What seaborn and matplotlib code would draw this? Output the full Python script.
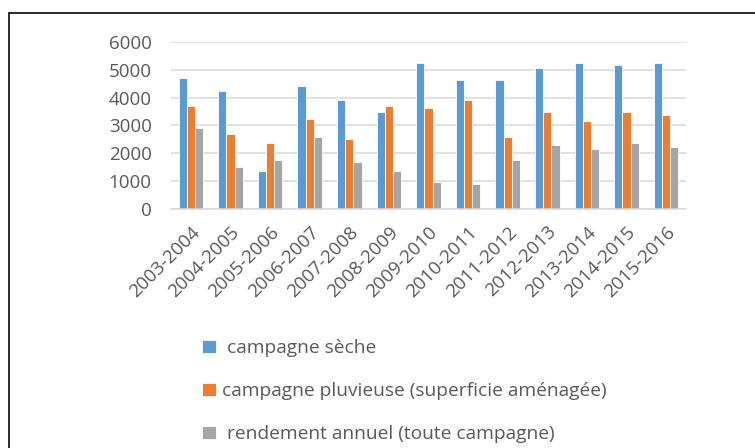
import matplotlib
matplotlib.use("Agg")
import matplotlib.pyplot as plt
from matplotlib.patches import Rectangle
import seaborn as sns
import pandas as pd

campagnes = ["2003-2004", "2004-2005", "2005-2006", "2006-2007", "2007-2008",
             "2008-2009", "2009-2010", "2010-2011", "2011-2012", "2012-2013",
             "2013-2014", "2014-2015", "2015-2016"]
seche = [4700, 4230, 1370, 4420, 3900, 3490, 5230, 4630, 4630, 5080, 5230, 5160, 5230]
pluvieuse = [3700, 2690, 2360, 3230, 2510, 3690, 3630, 3900, 2570, 3490, 3170, 3490, 3370]
rendement = [2900, 1510, 1770, 2570, 1700, 1360, 970, 900, 1760, 2290, 2170, 2360, 2230]
series_names = [" campagne sèche",
                "campagne pluvieuse (superficie aménagée)",
                " rendement annuel (toute campagne)"]
y_ticks = [0, 1000, 2000, 3000, 4000, 5000, 6000]

df = pd.DataFrame({
    "campagne": campagnes * 3,
    "valeur": seche + pluvieuse + rendement,
    "serie": [series_names[0]] * len(campagnes) + [series_names[1]] * len(campagnes)
             + [series_names[2]] * len(campagnes),
})

sns.set_style("white")
plt.rcParams["font.family"] = ["Open Sans", "DejaVu Sans"]

fig = plt.figure(figsize=(7.55, 4.48), dpi=100)
ax = fig.add_axes([0.2265, 0.5335, 0.682, 0.3728])

palette = ["#5B9BD5", "#ED7D31", "#A5A5A5"]
sns.barplot(data=df, x="campagne", y="valeur", hue="serie", palette=palette,
            saturation=1, width=0.62, edgecolor="white", linewidth=0.6, ax=ax,
            legend=True)

ax.set_ylim(0, 6000)
ax.set_yticks(y_ticks)
ax.set_yticklabels([str(v) for v in y_ticks])
ax.set_xlim(-0.5, len(campagnes) - 0.5)
ax.yaxis.grid(True, color="#D9D9D9", linewidth=1.1)
ax.set_axisbelow(True)
for s in ["top", "right", "left"]:
    ax.spines[s].set_visible(False)
ax.spines["bottom"].set_color("#D9D9D9")
ax.spines["bottom"].set_linewidth(1.1)
ax.tick_params(axis="both", length=0, colors="#595959", labelsize=13.5)
ax.tick_params(axis="y", pad=14)
ax.tick_params(axis="x", pad=10)
for lbl in ax.get_xticklabels():
    lbl.set_rotation(45)
    lbl.set_ha("right")
    lbl.set_rotation_mode("anchor")
ax.set_xlabel("")
ax.set_ylabel("")

handles, labels = ax.get_legend_handles_labels()
ax.get_legend().remove()
leg = fig.legend(handles, labels, loc="upper left", bbox_to_anchor=(0.258, 0.26),
                 frameon=False, fontsize=13.8, handlelength=0.7, handleheight=0.7,
                 handletextpad=0.3, labelspacing=1.3, borderaxespad=0)
for t in leg.get_texts():
    t.set_color("#595959")

fig.patches.append(Rectangle((9 / 755, -0.1), 1.2, 1 - 13 / 448 + 0.1,
                             transform=fig.transFigure, fill=False,
                             edgecolor="#1a1a1a", linewidth=1.3, figure=fig))

fig.savefig("out.png", dpi=100)
